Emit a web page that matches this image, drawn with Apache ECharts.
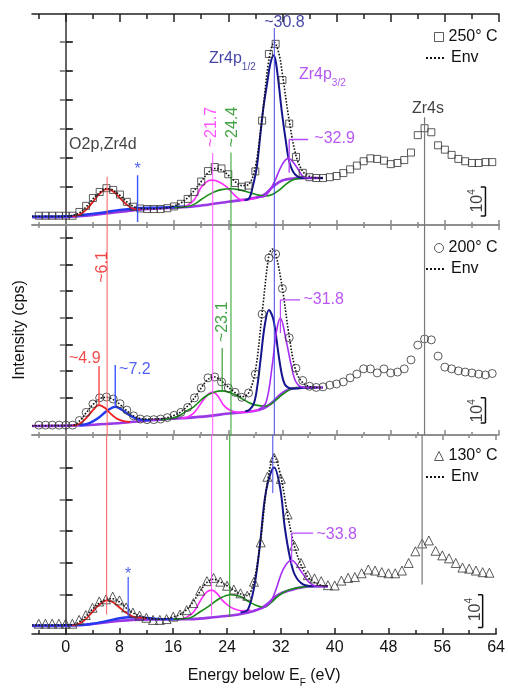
<!DOCTYPE html>
<html>
<head>
<meta charset="utf-8">
<script src="https://cdn.jsdelivr.net/npm/echarts@6/dist/echarts.min.js"></script>
<style>
  html, body { margin: 0; padding: 0; background: #fff; }
  #chart { width: 508px; height: 689px; }
</style>
</head>
<body>
<div id="chart"></div>
<script>
// ---- data (intensity in units of 1e4 cps, offset per panel) ----
const energies = [-4,-3,-2,-1,0,1,2,3,4,5,6,7,8,9,10,11,12,13,14,15,16,17,18,19,20,21,22,23,24,25,26,27,28,29,30,31,32,33,34,35,36,37,38,39,40,41,42,43,44,45,46,47,48,49,50,51,52,53,54,55,56,57,58,59,60,61,62,63]

const pts250 = [0.32,0.32,0.32,0.32,0.32,0.32,
  0.45,0.66,0.93,1.14,1.27,1.21,1.05,0.80,0.63,0.57,
  0.55,0.55,0.55,0.58,0.64,0.73,0.90,1.14,1.50,1.86,
  2.00,1.95,1.75,1.45,1.32,1.36,1.85,3.60,5.90,6.25,
  5.00,3.50,2.35,1.80,1.65,1.62,1.62,1.65,1.69,1.79,
  1.92,2.05,2.20,2.30,2.28,2.22,2.10,2.14,2.24,2.50,
  3.10,3.34,3.20,2.75,2.60,2.42,2.28,2.20,2.14,2.14,
  2.17,2.17]
const pts200 = [0.34,0.34,0.34,0.34,0.34,0.34,
  0.50,0.78,1.07,1.28,1.31,1.24,1.08,0.86,0.66,0.55,
  0.53,0.53,0.55,0.60,0.68,0.78,0.95,1.28,1.62,1.97,
  2.00,1.83,1.62,1.47,1.30,1.45,2.10,4.17,6.10,6.24,
  5.05,3.35,2.30,1.88,1.68,1.64,1.66,1.72,1.76,1.83,
  1.97,2.10,2.28,2.28,2.14,2.28,2.14,2.17,2.28,2.59,
  3.10,3.31,3.28,2.72,2.34,2.28,2.21,2.17,2.14,2.10,
  2.07,2.12]
const pts130 = [0.38,0.38,0.38,0.38,0.38,0.38,
  0.52,0.70,0.97,1.20,1.28,1.38,1.24,0.98,0.79,0.68,
  0.60,0.52,0.52,0.55,0.64,0.72,0.88,1.14,1.60,1.95,
  2.07,1.93,1.78,1.64,1.50,1.41,1.93,3.38,5.80,6.50,
  5.72,4.41,3.26,2.62,2.17,2.05,1.95,1.80,1.79,1.97,
  2.07,2.10,2.24,2.38,2.34,2.28,2.24,2.24,2.34,2.62,
  3.05,3.34,3.45,3.07,2.90,2.79,2.62,2.45,2.41,2.34,
  2.28,2.26]

// fitted curves, [energy, intensity]
const bg250 = [[-5,0.27],[0,0.28],[3,0.32],[6,0.4],[9,0.48],[12,0.55],[15,0.59],[18,0.62],[21,0.7],[24,0.8],[27,0.9],[28.5,0.97],[29.5,1.08],[30.5,1.3],[31.5,1.48],[32.5,1.57],[34,1.61],[36,1.62],[38,1.62]]
const blue250 = [[-5,0.29],[0,0.3],[3,0.36],[6,0.45],[8,0.52],[10.5,0.58],[13,0.6],[16,0.62],[18,0.64]]
const red250 = [[1,0.3],[2,0.36],[3,0.52],[4,0.8],[5,1.08],[6,1.24],[7,1.16],[8,0.93],[9,0.7],[10,0.56],[11,0.54]]
const mag250 = [[17,0.62],[18,0.68],[19,0.88],[20,1.3],[21,1.52],[21.7,1.55],[22.5,1.5],[23.8,1.31],[25.2,0.97],[26.2,0.85],[27.5,0.9],[28.5,0.97]]
const grn250 = [[16,0.6],[18,0.64],[19,0.72],[20,0.88],[21,1.03],[22,1.15],[23,1.22],[24.4,1.25],[25.5,1.22],[27,1.13],[28.5,1.03],[29.5,1.0],[30.5,1.05],[31.5,1.2],[32.5,1.4],[33.5,1.55],[34.5,1.61],[36,1.62],[38,1.62]]
const navy250 = [[26.4,0.85],[27.1,0.92],[27.6,1.31],[28.2,1.97],[28.7,3.03],[29.2,4.07],[29.8,4.97],[30.2,5.55],[30.7,5.86],[31,5.66],[31.4,4.97],[31.9,3.93],[32.5,2.9],[33,2.2],[33.8,1.76],[35,1.62],[38,1.62]]
const vio250 = [[28,0.95],[29.3,0.98],[30,1.15],[30.8,1.48],[32,2.1],[32.9,2.3],[34.1,2.0],[35.1,1.66],[36,1.62],[37.5,1.62]]
const env250 = [[-5,0.3],[0,0.3],[1,0.33],[2,0.42],[3,0.62],[4,0.9],[5,1.12],[6,1.26],[7,1.2],[8,1.02],[9,0.8],[10,0.64],[11,0.58],[12,0.56],[14,0.57],[15,0.6],[16,0.66],[17,0.76],[18,0.94],[19,1.2],[20,1.5],[21,1.8],[22,1.95],[23,1.9],[24,1.72],[25,1.5],[26,1.36],[27,1.4],[28,2.0],[29,3.7],[30,5.7],[30.8,6.3],[31.5,5.9],[32,5.2],[33,3.6],[34,2.4],[35,1.85],[36,1.68],[37,1.63],[38,1.62]]

const bg200 = [[-5,0.31],[0,0.32],[3,0.34],[6,0.38],[9,0.43],[12,0.5],[15,0.55],[18,0.59],[21,0.65],[24,0.74],[27,0.8],[28.5,0.86],[29.5,0.95],[30.5,1.12],[31.5,1.35],[32.5,1.52],[33.5,1.6],[35,1.64],[38,1.64]]
const blue200 = [[2,0.33],[3,0.37],[4,0.47],[5,0.62],[6,0.82],[7.3,0.97],[8.3,0.87],[9.3,0.7],[10.3,0.57],[11.3,0.52],[12.5,0.51]]
const red200 = [[1,0.32],[2,0.38],[3,0.58],[4,0.86],[4.9,1.03],[5.8,0.93],[6.5,0.76],[7.5,0.57],[8.5,0.48],[9.5,0.45]]
const mag200 = [[17,0.58],[18,0.62],[19,0.78],[20.1,1.14],[21,1.4],[21.6,1.48],[22.4,1.36],[23.3,1.03],[24.2,0.86],[25.5,0.78],[27,0.8],[28.5,0.86]]
const grn200 = [[14,0.52],[15,0.55],[16,0.6],[17,0.7],[18,0.85],[18.9,0.97],[20.5,1.31],[22,1.48],[23.1,1.52],[24.3,1.46],[25.6,1.31],[27,1.12],[28.1,1.03],[29.6,1.0],[30.5,1.1],[31.5,1.3],[32.5,1.48],[33.5,1.6],[35,1.64],[37,1.64]]
const navy200 = [[26.5,0.82],[27.1,0.86],[27.8,1.1],[28.3,1.7],[28.8,2.66],[29.4,3.8],[30,4.31],[30.7,3.95],[31.5,2.66],[32.2,1.83],[33,1.62],[34,1.6],[35,1.63],[37,1.64]]
const vio200 = [[28.5,0.88],[29.6,1.14],[30.5,2.41],[31.1,3.55],[31.7,4.03],[32.6,3.2],[33.3,2.41],[34,1.83],[35.2,1.64],[37,1.64]]
const env200 = [[-5,0.32],[1,0.33],[2,0.48],[3,0.76],[4,1.05],[5,1.25],[6,1.3],[7,1.22],[8,1.05],[9,0.84],[10,0.66],[11,0.57],[12,0.55],[14,0.56],[15,0.6],[16,0.68],[17,0.8],[18,1.0],[19,1.28],[20,1.62],[21,1.92],[22,2.0],[23,1.86],[24,1.65],[25,1.46],[26,1.32],[27,1.45],[28,2.2],[29,4.2],[30,6.2],[30.5,6.41],[31,6.25],[32,5.05],[33,3.4],[34,2.2],[35,1.8],[36,1.67],[37,1.64],[38,1.64]]

const bg130 = [[-5,0.3],[0,0.31],[3,0.34],[5,0.4],[7.5,0.47],[10,0.52],[14,0.54],[19,0.55],[22,0.62],[25.7,0.72],[28,0.85],[29.2,0.97],[30.2,1.15],[31.2,1.38],[32.2,1.52],[33.2,1.6],[35,1.72],[37,1.76],[39,1.76]]
const blue130 = [[-5,0.31],[2,0.33],[4,0.38],[6,0.47],[8,0.58],[9.5,0.62],[11,0.61],[13,0.57],[15,0.55],[17,0.55]]
const red130 = [[1,0.32],[2,0.38],[3,0.55],[4,0.82],[5,1.08],[6.2,1.24],[7,1.18],[8,0.98],[9,0.78],[10,0.64],[11,0.6],[12,0.57]]
const mag130 = [[17,0.55],[18,0.62],[19,0.8],[20.2,1.3],[21,1.55],[21.7,1.62],[22.5,1.5],[23.3,1.24],[24.2,1.05],[25,0.93],[26.2,0.86],[27.5,0.88]]
const grn130 = [[16,0.55],[18.3,0.58],[20,0.82],[21.3,1.03],[23,1.33],[24.6,1.45],[26,1.38],[27.2,1.2],[28.2,1.07],[29.4,0.98],[30.5,1.15],[31.5,1.38],[32.5,1.55],[33.5,1.65],[35,1.72],[37,1.76],[39,1.76]]
const navy130 = [[26,0.8],[27.1,0.9],[28.1,1.83],[28.9,3.31],[29.8,5.28],[31,6.14],[31.9,5.38],[32.6,3.9],[33.4,2.76],[34.1,2.17],[35.3,1.83],[37.1,1.76],[39,1.76]]
const vio130 = [[28,0.88],[29.4,0.97],[30.5,1.2],[31.2,1.59],[32.4,2.41],[33.6,2.72],[35.1,2.28],[36.1,1.93],[37.3,1.76],[39,1.76]]
const env130 = [[-5,0.33],[1,0.34],[2,0.45],[3,0.65],[4,0.92],[5,1.15],[6,1.27],[7,1.3],[8,1.18],[9,0.96],[10,0.78],[11,0.67],[12,0.6],[13,0.56],[14,0.55],[15,0.57],[16,0.63],[17,0.72],[18,0.9],[19,1.2],[20,1.58],[21,1.9],[22,2.02],[23,1.92],[24,1.78],[25,1.62],[26,1.48],[27,1.42],[28,1.95],[29,3.5],[30,5.6],[31,6.55],[32,5.8],[33,4.4],[34,3.25],[35,2.55],[36,2.1],[37,1.9],[38,1.8],[39,1.76]]

const temps = ['250° C', '200° C', '130° C']
const xMajor = [0, 8, 16, 24, 32, 40, 48, 56, 64]
const xMinor = [-4, 4, 12, 20, 28, 36, 44, 52, 60]
const yTicks = [
    [1.31, 2.31, 3.31, 4.31, 5.31, 6.31],
    [1.28, 2.2, 3.12, 4.04, 4.96, 5.88, 6.8],
    [1.45, 2.62, 3.79, 4.96, 6.13]
]
const yMax = [7.28, 7.24, 7.34]

// ---- layout / style ----
const FONT = '"Liberation Sans", Arial, sans-serif'
const gridTop = [14, 225, 435]
const gridH = [211, 210, 213]
const C = {
    red: '#ee1c1c', mag: '#ff2bff', grn: '#178c17', navy: '#15158e',
    vio: '#a52cf2', blue: '#2438ee', bg: '#9a38e6', gray: '#777'
}
const RICH = {
    sub: { fontSize: 10, padding: [17, 0, 0, 0] },
    sup: { fontSize: 10, padding: [0, 0, 12, 0] }
}

// notes: [energy, intensity, text, color, rotate]
const notes = [
    [
        [5.47, 2.79, 'O2p,Zr4d', '#111', 0],
        [10.6, 1.9, '*', C.blue, 0],
        [21.6, 3.38, '~21.7', C.mag, 90],
        [24.7, 3.38, '~24.4', C.grn, 90],
        [32.3, 7.0, '~30.8', C.navy, 0],
        [24.6, 5.75, 'Zr4p{sub|1/2}', C.navy, 0],
        [37.9, 5.2, 'Zr4p{sub|3/2}', C.vio, 0],
        [39.7, 2.97, '~32.9', C.vio, 0],
        [53.5, 4.0, 'Zr4s', '#111', 0],
        [60.9, 0.83, '10{sup|4}', '#111', 90]
    ],
    [
        [5.5, 5.79, '~6.1', C.red, 90],
        [2.8, 2.62, '~4.9', C.red, 0],
        [10.2, 2.24, '~7.2', C.blue, 0],
        [23.2, 3.9, '~23.1', C.grn, 90],
        [38.1, 4.66, '~31.8', C.vio, 0],
        [60.9, 0.83, '10{sup|4}', '#111', 90]
    ],
    [
        [9.3, 2.2, '*', C.blue, 0],
        [40.3, 3.66, '~33.8', C.vio, 0],
        [60.9, 0.9, '10{sup|4}', '#111', 90]
    ]
]

// guide segments: [e1, v1, e2, v2, color, width]
const guides = [
    [
        [6.1, 1.66, 6.1, 0, '#ff5c5c', 1], [10.6, 1.72, 10.6, 0.1, '#3a55ff', 1.4],
        [21.7, 2.48, 21.7, 0, '#ff55ff', 1], [24.4, 2.5, 24.4, 0, '#22a022', 1],
        [30.8, 6.8, 30.8, 0, '#4545e6', 1], [53, 3.72, 53, 0, C.gray, 1.2],
        [33, 2.95, 33, 1.8, '#b848ff', 1.4], [33, 2.95, 35.8, 2.95, '#b848ff', 1.4],
        [62, 0.31, 62, 1.31, '#111', 1.5], [61.3, 0.31, 62, 0.31, '#111', 1.5], [61.3, 1.31, 62, 1.31, '#111', 1.5]
    ],
    [
        [6.1, 7.24, 6.1, 0, '#ff5c5c', 1], [21.7, 7.24, 21.7, 0, '#ff55ff', 1],
        [24.4, 7.24, 24.4, 0, '#22a022', 1], [30.8, 7.24, 30.8, 0, '#4545e6', 1],
        [53, 7.24, 53, 0, C.gray, 1.2],
        [4.9, 2.38, 4.9, 1.03, '#ff4848', 1.4], [7.3, 2.41, 7.3, 0.97, '#3a55ff', 1.4],
        [23.1, 3.0, 23.1, 1.55, C.grn, 1],
        [31.7, 4.66, 31.7, 3.52, '#b848ff', 1.2], [31.7, 4.66, 34.6, 4.66, '#b848ff', 1.2],
        [62, 0.41, 62, 1.28, '#111', 1.5], [61.3, 0.41, 62, 0.41, '#111', 1.5], [61.3, 1.28, 62, 1.28, '#111', 1.5]
    ],
    [
        [6.1, 7.34, 6.1, 0.72, '#ff5c5c', 1], [21.7, 7.34, 21.7, 0.69, '#ff55ff', 1],
        [24.4, 7.34, 24.4, 0.62, '#22a022', 1], [30.8, 7.34, 30.8, 5.2, '#4545e6', 1],
        [53, 7.34, 53, 1.83, C.gray, 1.2],
        [9.3, 2.1, 9.3, 0.62, '#3a55ff', 1.2],
        [33.6, 3.72, 33.6, 2.59, '#b848ff', 1.2], [33.6, 3.72, 36.8, 3.72, '#b848ff', 1.2],
        [62, 0.24, 62, 1.45, '#111', 1.5], [61.3, 0.24, 62, 0.24, '#111', 1.5], [61.3, 1.45, 62, 1.45, '#111', 1.5]
    ]
]

const panels = [
    { pts: pts250, sym: 'rect', size: 7, curves: [bg250, blue250, red250, mag250, grn250, navy250, vio250], env: env250 },
    { pts: pts200, sym: 'circle', size: 8, curves: [bg200, blue200, red200, mag200, grn200, navy200, vio200], env: env200 },
    { pts: pts130, sym: 'triangle', size: 9, curves: [bg130, blue130, red130, mag130, grn130, navy130, vio130], env: env130 }
]
const curveStyle = [
    [C.bg, 2.6], [C.blue, 2.4], [C.red, 1.8], [C.mag, 1.6], [C.grn, 1.6], [C.navy, 2], [C.vio, 1.6]
]

const grids = [], xAxes = [], yAxes = [], series = []

panels.forEach((p, i) => {
    grids.push({ left: 32, right: 9, top: gridTop[i], height: gridH[i] })
    const topCol = i === 0 ? '#222' : '#888'
    const botCol = i === 2 ? '#222' : '#888'
    const last = i === 2
    const base = { type: 'value', gridIndex: i, min: -5, max: 64, splitLine: { show: false } }
    // bottom major
    xAxes.push(Object.assign({}, base, {
        position: 'bottom',
        axisLine: { lineStyle: { color: botCol, width: 1.5 } },
        axisTick: { inside: true, length: last ? 6 : 5, customValues: xMajor, lineStyle: { color: botCol, width: 1.5 } },
        axisLabel: { show: last, customValues: xMajor, fontSize: 16, color: '#111', fontFamily: FONT, margin: 6 },
        name: last ? '{m|Energy below E}{sub|F}{m| (eV)}' : '',
        nameLocation: 'middle', nameGap: 30,
        nameTextStyle: { fontSize: 16, color: '#111', fontFamily: FONT, rich: { m: { fontSize: 16 }, sub: { fontSize: 10, padding: [14, 0, 0, 0] } } }
    }))
    // bottom minor
    xAxes.push(Object.assign({}, base, {
        position: 'bottom', axisLine: { show: false },
        axisTick: { inside: true, length: last ? 4 : 3, customValues: xMinor, lineStyle: { color: botCol, width: 1.5 } },
        axisLabel: { show: false }
    }))
    // top major
    xAxes.push(Object.assign({}, base, {
        position: 'top',
        axisLine: { lineStyle: { color: topCol, width: 1.5 } },
        axisTick: { inside: true, length: i === 0 ? 8 : 5, customValues: xMajor, lineStyle: { color: topCol, width: 1.5 } },
        axisLabel: { show: false }
    }))
    // top minor
    xAxes.push(Object.assign({}, base, {
        position: 'top', axisLine: { show: false },
        axisTick: { inside: true, length: i === 0 ? 5 : 3, customValues: xMinor, lineStyle: { color: topCol, width: 1.5 } },
        axisLabel: { show: false }
    }))
    yAxes.push({
        type: 'value', gridIndex: i, position: 'left', min: 0, max: yMax[i],
        splitLine: { show: false },
        axisLine: { show: true, lineStyle: { color: '#000', width: 2 } },
        axisTick: { inside: true, length: 7, customValues: yTicks[i], lineStyle: { color: '#000', width: 1.5 } },
        axisLabel: { show: false },
        name: i === 1 ? 'Intensity (cps)' : '',
        nameLocation: 'middle', nameGap: 4,
        nameTextStyle: { fontSize: 16, color: '#111', fontFamily: FONT }
    })
    yAxes.push({
        type: 'value', gridIndex: i, position: 'right', min: 0, max: yMax[i],
        splitLine: { show: false },
        axisLine: { show: true, lineStyle: { color: '#888', width: 1.5 } },
        axisTick: { inside: true, length: 6, customValues: yTicks[i], lineStyle: { color: '#666', width: 1.5 } },
        axisLabel: { show: false }
    })

    const xi = i * 4, yi = i * 2
    p.curves.forEach((c, k) => {
        series.push({
            type: 'line', xAxisIndex: xi, yAxisIndex: yi, data: c,
            smooth: 0.35, showSymbol: false, symbol: 'none', silent: true,
            lineStyle: { color: curveStyle[k][0], width: curveStyle[k][1] }, z: 2 + k * 0.01
        })
    })
    series.push({
        name: 'Env', type: 'line', xAxisIndex: xi, yAxisIndex: yi, data: p.env,
        smooth: 0.35, showSymbol: false, symbol: 'none', silent: true,
        itemStyle: { color: '#111' },
        lineStyle: { color: '#111', width: 1.6, type: 'dotted' }, z: 3
    })
    series.push({
        name: temps[i], type: 'scatter', xAxisIndex: xi, yAxisIndex: yi,
        data: energies.map((e, k) => [e, p.pts[k]]),
        symbol: p.sym, symbolSize: p.size, silent: true,
        itemStyle: { color: 'rgba(255,255,255,0)', borderColor: '#333', borderWidth: 1 }, z: 4
    })
    // guide lines, one small series per segment, drawn over the marks
    guides[i].forEach(g => {
        series.push({
            type: 'line', xAxisIndex: xi, yAxisIndex: yi, silent: true,
            data: [[g[0], g[1]], [g[2], g[3]]],
            showSymbol: false, symbol: 'none',
            lineStyle: { color: g[4], width: g[5], opacity: 1 }, z: 5
        })
    })
    // annotations
    series.push({
        type: 'scatter', xAxisIndex: xi, yAxisIndex: yi, silent: true, symbolSize: 1,
        itemStyle: { color: 'rgba(0,0,0,0)' }, z: 6,
        label: { show: true, position: 'inside', fontSize: 16, fontFamily: FONT },
        data: notes[i].map(n => ({
            value: [n[0], n[1]],
            label: { formatter: n[2], color: n[3], rotate: n[4], rich: RICH }
        }))
    })
})

const legendTop = [24, 235, 443]
const legends = []
temps.forEach((t, i) => {
    legends.push({
        orient: 'vertical', left: 429, top: legendTop[i],
        itemWidth: 9, itemHeight: 9, selectedMode: false,
        data: [t],
        itemStyle: { borderWidth: 1 },
        textStyle: { fontSize: 16, color: '#111', fontFamily: FONT }
    })
    legends.push({
        orient: 'vertical', left: 420, top: legendTop[i] + 21,
        itemWidth: 20, itemHeight: 9, selectedMode: false,
        data: [{ name: 'Env', itemStyle: { color: 'rgba(0,0,0,0)', borderColor: 'rgba(0,0,0,0)', borderWidth: 0 } }],
        textStyle: { fontSize: 16, color: '#111', fontFamily: FONT }
    })
})

const chart = echarts.init(document.getElementById('chart'), null, { renderer: 'canvas' })
chart.setOption({
    backgroundColor: '#fff',
    animation: false,
    grid: grids,
    xAxis: xAxes,
    yAxis: yAxes,
    legend: legends,
    series: series
})
</script>
</body>
</html>
